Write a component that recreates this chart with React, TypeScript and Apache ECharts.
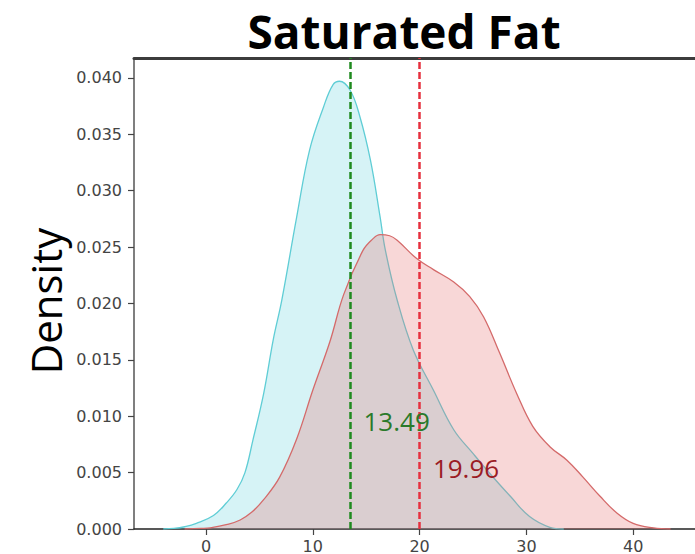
import { useEffect, useRef } from "react";
import * as echarts from "echarts";

const titleText = "Saturated Fat";
const yAxisTitle = "Density";
const xTicks = [0, 10, 20, 30, 40];
const yTicks = [0, 0.005, 0.01, 0.015, 0.02, 0.025, 0.03, 0.035, 0.04];

const cyanX = [-4, -3, -2, -0.9, 0.7, 1.9, 2.9, 3.65, 4.4, 5.4, 6.3, 7.1, 8.5, 9.7, 11, 11.9, 12.5, 13.5, 14.4, 15.4, 16.3, 16.8, 17.9, 19.4, 21.3, 23.2, 25, 26.6, 28.5, 30.3, 32.2, 33.5];
const cyanY = [0, 0.00005, 0.0002, 0.0005, 0.0012, 0.0023, 0.0035, 0.005, 0.0079, 0.012, 0.0168, 0.0203, 0.0277, 0.0336, 0.0374, 0.0394, 0.0397, 0.0389, 0.0366, 0.0327, 0.0277, 0.0247, 0.0203, 0.0159, 0.0123, 0.0088, 0.0067, 0.0049, 0.0029, 0.0011, 0.00015, 0];

const redX = [-2, -0.5, 0.4, 2, 3.2, 4.3, 5.4, 6.9, 8.5, 10, 11.6, 12.9, 14.7, 15.6, 16.3, 17.2, 17.9, 19.7, 21.3, 23.2, 24.7, 26, 27.5, 29.1, 30.6, 32.2, 33.8, 35.3, 36.9, 38.5, 40, 41.9, 43.5];
const redY = [0, 0.00005, 0.0001, 0.0004, 0.0008, 0.0015, 0.0026, 0.0046, 0.008, 0.0123, 0.0166, 0.0208, 0.0247, 0.0257, 0.0261, 0.026, 0.0256, 0.024, 0.023, 0.0219, 0.0206, 0.0188, 0.0156, 0.012, 0.0091, 0.0073, 0.0061, 0.0046, 0.0029, 0.0014, 0.0005, 0.0001, 0];

const means = [13.49, 19.96];
const meanLabelX = [14.7, 21.2];
const meanLabelY = [0.0096, 0.0054];
const meanLineColors = ["#1f8a1f", "#e6303e"];
const meanLabelColors = ["#2a7a2a", "#9b1b24"];

const X_MIN = -6.74;
const X_MAX = 45.79;
const Y_MAX = 0.04176;

export default function App() {
  const ref = useRef<HTMLDivElement>(null);
  useEffect(() => {
    if (!ref.current) return;
    const chart = echarts.init(ref.current, undefined, { renderer: "svg" });
    const cyanData = cyanX.map((x, i) => [x, cyanY[i]]);
    const redData = redX.map((x, i) => [x, redY[i]]);
    const tickFont = { fontFamily: "DejaVu Sans", fontSize: 16, color: "#444" };
    const option: any = {
      animation: false,
      grid: { left: 134, right: 0, top: 58, bottom: 24 },
      xAxis: [
        {
          type: "value",
          min: X_MIN,
          max: X_MAX,
          axisLine: { show: true, onZero: false, lineStyle: { color: "#222", width: 1.5 } },
          axisTick: { show: true, length: 6, customValues: xTicks, lineStyle: { color: "#444", width: 1.2 } },
          axisLabel: { customValues: xTicks, margin: 9, ...tickFont },
          splitLine: { show: false },
        },
        {
          type: "value",
          position: "top",
          min: X_MIN,
          max: X_MAX,
          axisLine: { show: true, onZero: false, lineStyle: { color: "#3c3c3c", width: 3 } },
          axisTick: { show: false },
          axisLabel: { show: false },
          splitLine: { show: false },
        },
      ],
      yAxis: {
        type: "value",
        min: 0,
        max: Y_MAX,
        axisLine: { show: true, onZero: false, lineStyle: { color: "#555", width: 1.5 } },
        axisTick: { show: true, length: 6, customValues: yTicks, lineStyle: { color: "#444", width: 1.2 } },
        axisLabel: { customValues: yTicks, margin: 12, formatter: (v: number) => v.toFixed(3), ...tickFont },
        splitLine: { show: false },
      },
      series: [
        {
          type: "line",
          z: 2,
          data: cyanData,
          smooth: 0.4,
          showSymbol: false,
          lineStyle: { color: "#5fcdd5", width: 1.3 },
          areaStyle: { color: "rgba(60,200,212,0.3)" },
          silent: true,
        },
        {
          type: "line",
          z: 3,
          data: redData,
          smooth: 0.4,
          showSymbol: false,
          lineStyle: { color: "#d46a6a", width: 1.3 },
          areaStyle: { color: "rgba(230,113,113,0.4)" },
          silent: true,
        },
        {
          type: "scatter",
          z: 10,
          symbolSize: 1,
          itemStyle: { color: "rgba(0,0,0,0)" },
          silent: true,
          data: means.map((m, i) => ({
            value: [meanLabelX[i], meanLabelY[i]],
            label: {
              show: true,
              position: "right",
              distance: 0,
              formatter: m.toFixed(2),
              fontFamily: "Open Sans",
              fontSize: 26,
              color: meanLabelColors[i],
              opacity: 1,
            },
          })),
          markLine: {
            silent: true,
            z: 10,
            symbol: ["none", "none"],
            label: { show: false },
            data: means.map((m, i) => ({
              xAxis: m,
              lineStyle: { color: meanLineColors[i], width: 2.5, type: [7, 3] },
            })),
          },
        },
      ],
      graphic: [
        {
          type: "text",
          x: 404,
          y: 31,
          style: {
            text: titleText,
            fontFamily: "Open Sans",
            fontWeight: "bold",
            fontSize: 46,
            lineHeight: 50,
            fill: "#000",
            align: "center",
            verticalAlign: "middle",
          },
        },
        {
          type: "text",
          x: 45,
          y: 301,
          rotation: Math.PI / 2,
          style: {
            text: yAxisTitle,
            fontFamily: "Open Sans",
            fontSize: 42,
            fill: "#000",
            align: "center",
            verticalAlign: "middle",
          },
        },
      ],
    };
    chart.setOption(option);
    return () => chart.dispose();
  }, []);
  return (
    <div
      ref={ref}
      style={{ position: "fixed", left: 0, top: 0, width: 695, height: 554, background: "#fff" }}
    />
  );
}
